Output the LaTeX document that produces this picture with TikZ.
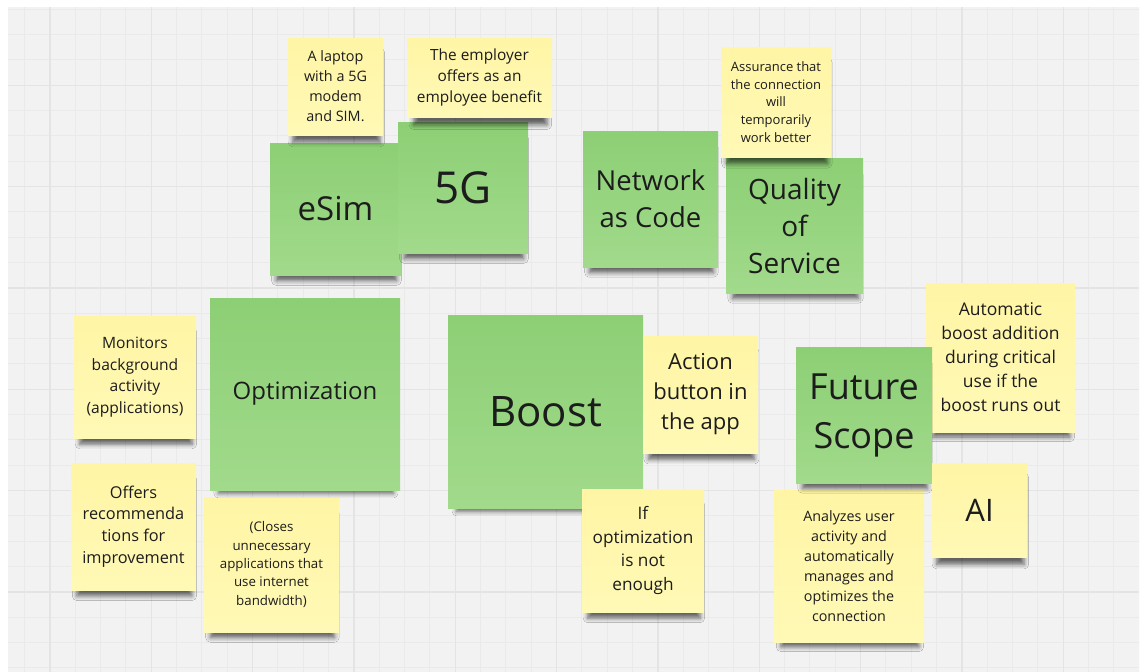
\documentclass[tikz,border=0pt]{standalone}
\usepackage{fontspec}
\setmainfont{Open Sans}
\usetikzlibrary{shadows.blur}

\definecolor{board}{RGB}{242,242,242}
\definecolor{gridminor}{RGB}{234,234,234}
\definecolor{gridmajor}{RGB}{228,228,228}
\definecolor{greentop}{RGB}{141,207,117}
\definecolor{greenbot}{RGB}{161,218,139}
\definecolor{yellowtop}{RGB}{255,245,165}
\definecolor{yellowbot}{RGB}{255,249,182}
\definecolor{ink}{RGB}{28,28,28}

\tikzset{
  note/.style={rectangle, inner sep=0pt, align=center, text=ink,
    blur shadow={shadow xshift=1pt, shadow yshift=-12pt, shadow scale=0.92,
      shadow blur radius=5pt, shadow opacity=60}},
  gnote/.style={note, top color=greentop, bottom color=greenbot},
  ynote/.style={note, top color=yellowtop, bottom color=yellowbot},
  minorline/.style={draw=gridminor, line width=1pt},
  majorline/.style={draw=gridmajor, line width=1.5pt}
}

\newcommand{\fs}[2]{\fontsize{#1}{#2}\selectfont}

\begin{document}
\begin{tikzpicture}[x=1pt, y=-1pt]
\useasboundingbox (0,0) rectangle (1141,672);
\fill[white] (0,0) rectangle (1141,672);

% board with grid
\fill[board] (8,7) rectangle (1139,672);
\begin{scope}
\clip (8,7) rectangle (1139,672);
\foreach \k in {-1,...,43}
  \draw[minorline] ({50+25.33*\k},7) -- ({50+25.33*\k},672);
\foreach \k in {-3,...,23}
  \draw[minorline] (8,{85.3+25.33*\k}) -- (1139,{85.3+25.33*\k});
\foreach \k in {0,...,10}
  \draw[majorline] ({50+101.33*\k},7) -- ({50+101.33*\k},672);
\foreach \k in {-1,...,5}
  \draw[majorline] (8,{85.3+101.33*\k}) -- (1139,{85.3+101.33*\k});
\end{scope}

% top row
\node[gnote, minimum width=131pt, minimum height=132pt, font=\fs{33}{38}] (esim) at (335.5,209) {eSim};
\node[ynote, minimum width=95pt, minimum height=97pt, font=\fs{14.4}{20}] (laptop) at (335.5,86.5) {A laptop\\with a 5G\\modem\\and SIM.};
\node[gnote, minimum width=130pt, minimum height=131pt, font=\fs{44}{50}] (fiveg) at (463,187.5) {5G};
\node[ynote, minimum width=145pt, minimum height=79pt, font=\fs{15.4}{21}] (benefit) at (479.5,77.5) {The employer\\offers as an\\employee benefit};
\node[gnote, minimum width=135pt, minimum height=136pt, font=\fs{27.5}{37}] (nac) at (650.5,199) {Network\\as Code};
\node[gnote, minimum width=137pt, minimum height=135pt, font=\fs{28}{37}] (qos) at (794.5,225.5) {Quality\\of\\Service};
\node[ynote, minimum width=110pt, minimum height=110pt, font=\fs{13}{17.7}] (assurance) at (776,102) {Assurance that\\the connection\\will\\temporarily\\work better};

% optimization group
\node[ynote, minimum width=122pt, minimum height=122pt, font=\fs{15.6}{21.7}] (monitors) at (135,377) {Monitors\\background\\activity\\(applications)};
\node[ynote, minimum width=125pt, minimum height=127pt, font=\fs{16.3}{21.7}] (offers) at (133.5,526.5) {Offers\\recommenda\\tions for\\improvement};
\node[ynote, minimum width=135pt, minimum height=135pt, font=\fs{13.3}{18.3}] (closes) at (271.5,564.5) {(Closes\\unnecessary\\applications that\\use internet\\bandwidth)};
\node[gnote, minimum width=190pt, minimum height=192pt, font=\fs{24}{30}] (optim) at (305,394) {Optimization};

% boost group
\node[gnote, minimum width=195pt, minimum height=193pt, font=\fs{42}{48}] (boost) at (545.5,411.5) {Boost};
\node[ynote, minimum width=115pt, minimum height=117pt, font=\fs{22}{30}] (action) at (700.5,394.5) {Action\\button in\\the app};
\node[ynote, minimum width=122pt, minimum height=123pt, font=\fs{17.2}{23.5}] (ifopt) at (643,550.5) {If\\optimization\\is not\\enough};

% future scope group
\node[ynote, minimum width=149pt, minimum height=149pt, font=\fs{17.5}{24}] (auto) at (1000.5,357.5) {Automatic\\boost addition\\during critical\\use if the\\boost runs out};
\node[ynote, minimum width=150pt, minimum height=152pt, font=\fs{14.3}{20}] (analyzes) at (849,566) {Analyzes user\\activity and\\automatically\\manages and\\optimizes the\\connection};
\node[gnote, minimum width=136pt, minimum height=136pt, font=\fs{36}{49}] (future) at (864,415) {Future\\Scope};
\node[ynote, minimum width=95pt, minimum height=94pt, font=\fs{31}{36}] (ai) at (979.5,510) {AI};

\end{tikzpicture}
\end{document}
